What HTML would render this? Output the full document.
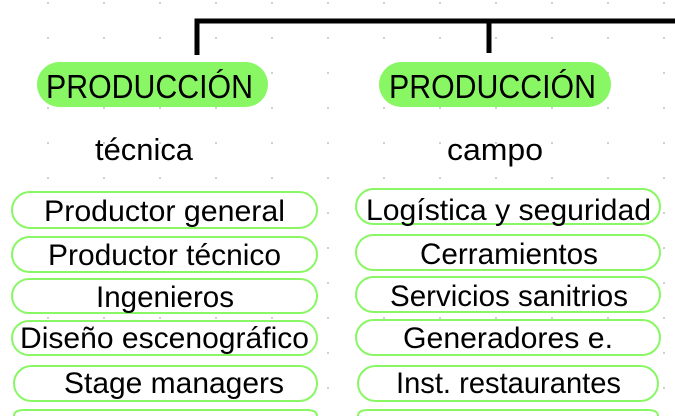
<!DOCTYPE html>
<html><head><meta charset="utf-8"><style>
html,body{margin:0;padding:0;background:#fff;width:675px;height:416px;overflow:hidden;}
svg{display:block}
text{font-family:"Liberation Sans",sans-serif;fill:#000;}
</style></head><body>
<svg width="675" height="416" viewBox="0 0 675 416" xmlns="http://www.w3.org/2000/svg">
<defs>
<pattern id="dots" x="47" y="2" width="56" height="35" patternUnits="userSpaceOnUse">
<rect x="0" y="0" width="2" height="2" fill="#cfcfcf"/>
</pattern>
</defs>
<rect width="675" height="416" fill="url(#dots)"/>
<path d="M197 55 V21 H675 M489 21 V53" stroke="#000" stroke-width="5" fill="none"/>
<rect x="37" y="62" width="231" height="45" rx="22.5" fill="#88f763"/>
<rect x="379" y="62" width="232" height="45" rx="22.5" fill="#88f763"/>
<text x="46" y="98" font-size="33" textLength="207" lengthAdjust="spacingAndGlyphs">PRODUCCIÓN</text>
<text x="389" y="98" font-size="33" textLength="207" lengthAdjust="spacingAndGlyphs">PRODUCCIÓN</text>
<text x="95" y="160" font-size="31" textLength="98" lengthAdjust="spacingAndGlyphs">técnica</text>
<text x="447" y="160" font-size="31" textLength="96" lengthAdjust="spacingAndGlyphs">campo</text>
<g fill="#fff" stroke="#88f763" stroke-width="2">
<rect x="12" y="192" width="305" height="36" rx="18"/>
<rect x="12" y="237" width="305" height="35" rx="17.5"/>
<rect x="12" y="279" width="305" height="34" rx="17"/>
<rect x="12" y="321" width="305" height="34" rx="17"/>
<rect x="14" y="366" width="303" height="35" rx="17.5"/>
<path d="M14 416 Q14 410 24 410 H307 Q317 410 317 416"/>
<rect x="356" y="189" width="304" height="35" rx="17.5"/>
<rect x="356" y="235" width="304" height="35" rx="17.5"/>
<rect x="356" y="277" width="304" height="35" rx="17.5"/>
<rect x="356" y="320" width="304" height="35" rx="17.5"/>
<rect x="358" y="366" width="300" height="35" rx="17.5"/>
<path d="M358 416 Q358 410 368 410 H648 Q658 410 658 416"/>
</g>
<g font-size="30">
<text x="44" y="221" textLength="241" lengthAdjust="spacingAndGlyphs">Productor general</text>
<text x="48" y="265" textLength="233" lengthAdjust="spacingAndGlyphs">Productor técnico</text>
<text x="96" y="307" textLength="138" lengthAdjust="spacingAndGlyphs">Ingenieros</text>
<text x="20" y="348" textLength="289" lengthAdjust="spacingAndGlyphs">Diseño escenográfico</text>
<text x="64" y="393" textLength="220" lengthAdjust="spacingAndGlyphs">Stage managers</text>
<text x="366" y="220" textLength="285" lengthAdjust="spacingAndGlyphs">Logística y seguridad</text>
<text x="420" y="264" textLength="178" lengthAdjust="spacingAndGlyphs">Cerramientos</text>
<text x="390" y="306" textLength="238" lengthAdjust="spacingAndGlyphs">Servicios sanitrios</text>
<text x="403" y="348" textLength="210" lengthAdjust="spacingAndGlyphs">Generadores e.</text>
<text x="396" y="393" textLength="225" lengthAdjust="spacingAndGlyphs">Inst. restaurantes</text>
</g>
</svg>
</body></html>
